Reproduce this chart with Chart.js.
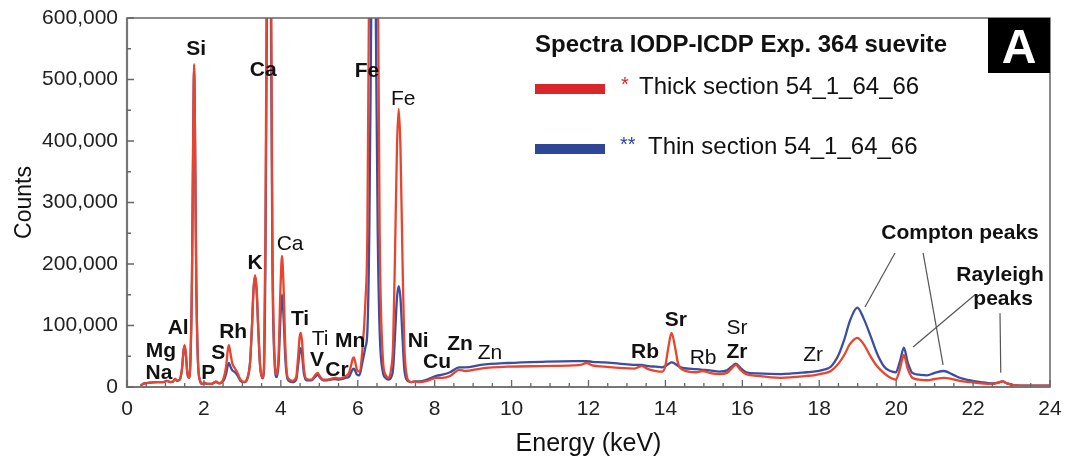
<!DOCTYPE html>
<html>
<head>
<meta charset="utf-8">
<script src="https://cdn.jsdelivr.net/npm/chart.js@4.4.0/dist/chart.umd.min.js"></script>
<style>
  body { margin: 0; background: #fff; }
  #wrap { width: 1068px; height: 464px; }
</style>
</head>
<body>
<div id="wrap"><canvas id="spectraChart" width="1068" height="464"></canvas></div>
<script>
// energy in keV, counts in thousands
const energy = [
  0.35, 0.45, 0.6, 0.8, 0.95, 1.04, 1.12, 1.2, 1.25, 1.3,
  1.37, 1.43, 1.47, 1.5, 1.53, 1.57, 1.61, 1.65, 1.69, 1.72,
  1.745, 1.77, 1.8, 1.84, 1.9, 1.96, 2.01, 2.1, 2.2, 2.31,
  2.4, 2.5, 2.58, 2.62, 2.65, 2.69, 2.74, 2.81, 2.88, 2.95,
  3.05, 3.13, 3.2, 3.25, 3.29, 3.33, 3.37, 3.41, 3.46, 3.52,
  3.56, 3.6, 3.65, 3.69, 3.73, 3.78, 3.84, 3.89, 3.94, 3.99,
  4.03, 4.07, 4.12, 4.18, 4.3, 4.4, 4.45, 4.49, 4.52, 4.55,
  4.6, 4.67, 4.8, 4.9, 4.96, 5.02, 5.1, 5.2, 5.3, 5.41,
  5.5, 5.6, 5.7, 5.78, 5.83, 5.87, 5.9, 5.93, 5.98, 6.04,
  6.12, 6.2, 6.25, 6.3, 6.35, 6.41, 6.47, 6.52, 6.57, 6.65,
  6.72, 6.8, 6.87, 6.92, 6.97, 7.02, 7.065, 7.11, 7.16, 7.21,
  7.27, 7.33, 7.4, 7.47, 7.6, 7.8, 8.04, 8.2, 8.4, 8.64,
  8.8, 9.2, 9.9, 10.8, 11.6, 11.8, 11.95, 12.1, 12.4, 12.8,
  13.2, 13.38, 13.55, 13.75, 13.92, 14.0, 14.07, 14.16, 14.25, 14.33,
  14.45, 14.8, 14.97, 15.15, 15.4, 15.6, 15.72, 15.83, 15.95, 16.1,
  16.4, 17.0, 17.3, 17.67, 17.85, 18.1, 18.3, 18.5, 18.65, 18.8,
  18.99, 19.15, 19.34, 19.5, 19.69, 19.85, 19.99, 20.1, 20.2, 20.3,
  20.42, 20.6, 20.8, 21.0, 21.24, 21.45, 21.65, 21.9, 22.2, 22.5,
  22.65, 22.76, 22.88, 23.05, 23.5, 24.0
];
const thickCounts = [
  2, 6, 7, 8, 8, 10, 8, 9, 13, 10,
  12, 30, 60, 68, 55, 22, 15, 45, 180, 400,
  525, 400, 180, 50, 10, 5, 7, 5, 5, 9,
  6, 12, 35, 60, 68, 55, 38, 30, 22, 12,
  8, 14, 40, 100, 160, 182, 160, 100, 35, 15,
  30, 250, 900, 1500, 900, 250, 45, 20, 50, 160,
  213, 165, 60, 15, 10, 16, 50, 82, 88, 75,
  30, 13, 12, 20, 23, 17, 12, 12, 13, 15,
  14, 15, 18, 24, 36, 46, 48, 42, 28, 25,
  60, 140, 250, 700, 1800, 2700, 1800, 700, 250, 50,
  20, 15, 30, 70, 220, 390, 452, 390, 220, 70,
  20, 10, 8, 9, 8, 10, 15, 15, 18, 28,
  26, 30, 33, 34, 35, 36, 39, 35, 33, 31,
  30, 34, 29, 26, 25, 35, 62, 88, 65, 38,
  28, 24, 26, 23, 21, 23, 30, 36, 28, 21,
  18, 15, 16, 18, 19, 22, 26, 38, 52, 70,
  80, 70, 49, 34, 22, 15, 12, 30, 52, 30,
  15, 12, 11, 13, 15, 13, 10, 8, 6, 5,
  7, 9, 6, 3, 2, 2
];
const thinCounts = [
  2, 6, 7, 8, 8, 10, 8, 9, 13, 10,
  12, 29, 58, 66, 53, 22, 15, 44, 178, 395,
  520, 395, 178, 50, 10, 5, 6, 5, 5, 8,
  6, 9, 22, 35, 39, 33, 27, 24, 18, 10,
  8, 14, 40, 99, 158, 180, 158, 99, 35, 14,
  26, 210, 760, 1200, 760, 210, 38, 16, 36, 112,
  150, 115, 43, 12, 8, 12, 36, 58, 63, 53,
  22, 11, 11, 17, 20, 15, 11, 11, 12, 13,
  12, 13, 15, 17, 24, 29, 30, 27, 20, 19,
  40, 65, 90, 250, 600, 1000, 600, 250, 90, 25,
  15, 12, 16, 30, 85, 145, 164, 145, 85, 30,
  12, 9, 8, 9, 9, 12, 18, 20, 24, 32,
  32, 36, 39, 41, 42, 42, 42, 41, 40, 38,
  36, 36, 34, 33, 32, 34, 37, 40, 38, 34,
  31, 29, 28, 27, 25, 27, 33, 38, 31, 24,
  22, 21, 22, 24, 25, 28, 33, 52, 77, 108,
  129, 112, 82, 55, 33, 26, 24, 42, 64, 40,
  23, 20, 19, 23, 26, 21, 15, 11, 8, 6,
  7, 9, 6, 3, 2, 2
];

// element labels: text, energy, counts (k), bold
const peakLabels = [
  ['Na', 0.83, 23, true], ['Mg', 0.88, 59, true], ['Al', 1.33, 96, true], ['Si', 1.8, 550, true],
  ['P', 2.11, 23, true], ['S', 2.37, 55, true], ['Rh', 2.76, 89, true], ['K', 3.33, 202, true],
  ['Ca', 3.54, 515, true], ['Ca', 4.24, 233, false], ['Ti', 4.5, 111, true], ['Ti', 5.02, 77, false],
  ['V', 4.94, 44, true], ['Cr', 5.46, 28, true], ['Mn', 5.8, 75, true], ['Fe', 6.24, 514, true],
  ['Fe', 7.18, 468, false], ['Ni', 7.57, 75, true], ['Cu', 8.06, 41, true], ['Zn', 8.66, 70, true],
  ['Zn', 9.44, 55, false], ['Rb', 13.47, 57, true], ['Sr', 14.27, 109, true], ['Rb', 14.98, 47, false],
  ['Sr', 15.86, 96, false], ['Zr', 15.86, 57, true], ['Zr', 17.84, 52, false],
  ['Compton peaks', 21.66, 250, true], ['Rayleigh', 22.7, 182, true], ['peaks', 22.78, 143, true]
];
// leader lines: e1, c1, e2, c2
const leaderLines = [
  [19.97, 218, 19.19, 130], [20.7, 218, 21.22, 36], [22.05, 150, 20.44, 65], [22.7, 120, 22.72, 23]
];

const FONT = "'Liberation Sans', Arial, sans-serif";

const decorations = {
  id: 'decorations',
  afterDraw(chart) {
    const ctx = chart.ctx;
    const a = chart.chartArea;
    const x = chart.scales.x, y = chart.scales.y;
    ctx.save();

    // frame
    ctx.strokeStyle = '#666';
    ctx.lineWidth = 1.5;
    ctx.strokeRect(a.left, a.top, a.right - a.left, a.bottom - a.top);
    ctx.strokeStyle = '#777';
    ctx.lineWidth = 2.2;
    ctx.beginPath();
    ctx.moveTo(a.left, a.top);
    ctx.lineTo(a.left, a.bottom);
    ctx.lineTo(a.right, a.bottom);
    ctx.stroke();

    // inward ticks
    ctx.strokeStyle = '#666';
    ctx.lineWidth = 1.3;
    ctx.beginPath();
    for (let v = 0; v <= 24; v += 0.5) {
      const px = x.getPixelForValue(v);
      const len = v % 2 === 0 ? 7 : 4;
      ctx.moveTo(px, a.bottom);
      ctx.lineTo(px, a.bottom - len);
    }
    for (let v = 0; v <= 600; v += 50) {
      const py = y.getPixelForValue(v);
      const len = v % 100 === 0 ? 7 : 4;
      ctx.moveTo(a.left, py);
      ctx.lineTo(a.left + len, py);
    }
    ctx.stroke();

    // leader lines
    ctx.strokeStyle = '#555';
    ctx.lineWidth = 1.2;
    leaderLines.forEach(l => {
      ctx.beginPath();
      ctx.moveTo(x.getPixelForValue(l[0]), y.getPixelForValue(l[1]));
      ctx.lineTo(x.getPixelForValue(l[2]), y.getPixelForValue(l[3]));
      ctx.stroke();
    });

    // element labels
    ctx.fillStyle = '#111';
    ctx.textAlign = 'center';
    ctx.textBaseline = 'middle';
    peakLabels.forEach(p => {
      ctx.font = (p[3] ? 'bold ' : '') + '21px ' + FONT;
      ctx.fillText(p[0], x.getPixelForValue(p[1]), y.getPixelForValue(p[2]));
    });

    // axis titles
    ctx.font = '25px ' + FONT;
    ctx.textBaseline = 'alphabetic';
    ctx.fillText('Energy (keV)', (a.left + a.right) / 2, 451);
    ctx.save();
    ctx.translate(25, (a.top + a.bottom) / 2);
    ctx.rotate(-Math.PI / 2);
    ctx.textBaseline = 'middle';
    ctx.font = '23px ' + FONT;
    ctx.fillText('Counts', 0, 0);
    ctx.restore();

    // legend
    ctx.textAlign = 'left';
    ctx.textBaseline = 'alphabetic';
    ctx.font = 'bold 24px ' + FONT;
    ctx.fillStyle = '#111';
    ctx.fillText('Spectra IODP-ICDP Exp. 364 suevite', 535, 52);

    ctx.fillStyle = '#d9262a';
    ctx.fillRect(535, 84, 70, 10);
    ctx.font = '20px ' + FONT;
    ctx.fillText('*', 621, 91);
    ctx.fillStyle = '#111';
    ctx.font = '24px ' + FONT;
    ctx.fillText('Thick section 54_1_64_66', 639, 94);

    ctx.fillStyle = '#2f4595';
    ctx.fillRect(535, 144, 70, 10);
    ctx.font = '20px ' + FONT;
    ctx.fillText('**', 620, 151);
    ctx.fillStyle = '#111';
    ctx.font = '24px ' + FONT;
    ctx.fillText('Thin section 54_1_64_66', 648, 154);

    // panel letter
    ctx.fillStyle = '#000';
    ctx.fillRect(988, a.top, a.right - 988, 55);
    ctx.fillStyle = '#fff';
    ctx.textAlign = 'center';
    ctx.font = 'bold 48px ' + FONT;
    ctx.fillText('A', (988 + a.right) / 2, 63);

    ctx.restore();
  }
};

const ctx = document.getElementById('spectraChart').getContext('2d');
new Chart(ctx, {
  type: 'line',
  data: {
    datasets: [{
      label: 'Thick section 54_1_64_66',
      data: energy.map((e, i) => ({ x: e, y: thickCounts[i] })),
      borderColor: '#e8452e',
      borderWidth: 2.3,
      pointRadius: 0,
      cubicInterpolationMode: 'monotone',
      order: 0
    }, {
      label: 'Thin section 54_1_64_66',
      data: energy.map((e, i) => ({ x: e, y: thinCounts[i] })),
      borderColor: '#3b4ea3',
      borderWidth: 2.3,
      pointRadius: 0,
      cubicInterpolationMode: 'monotone',
      order: 1
    }]
  },
  options: {
    responsive: false,
    animation: false,
    layout: { padding: { top: 18, right: 18, left: 0, bottom: 0 } },
    plugins: {
      legend: { display: false },
      tooltip: { enabled: false }
    },
    scales: {
      x: {
        type: 'linear',
        min: 0,
        max: 24,
        afterFit(scale) {
          scale.height = 77;
          scale.paddingLeft = 0;
          scale.paddingRight = 0;
        },
        grid: { display: false, drawTicks: false },
        border: { display: false },
        ticks: {
          stepSize: 2,
          padding: 10,
          color: '#222',
          font: { family: FONT, size: 21 }
        }
      },
      y: {
        min: 0,
        max: 600,
        afterFit(scale) {
          scale.width = 127;
          scale.paddingTop = 0;
          scale.paddingBottom = 0;
        },
        grid: { display: false, drawTicks: false },
        border: { display: false },
        ticks: {
          stepSize: 100,
          padding: 9,
          color: '#222',
          font: { family: FONT, size: 21 },
          callback: v => (v * 1000).toLocaleString('en-US')
        }
      }
    }
  },
  plugins: [decorations]
});
</script>
</body>
</html>
